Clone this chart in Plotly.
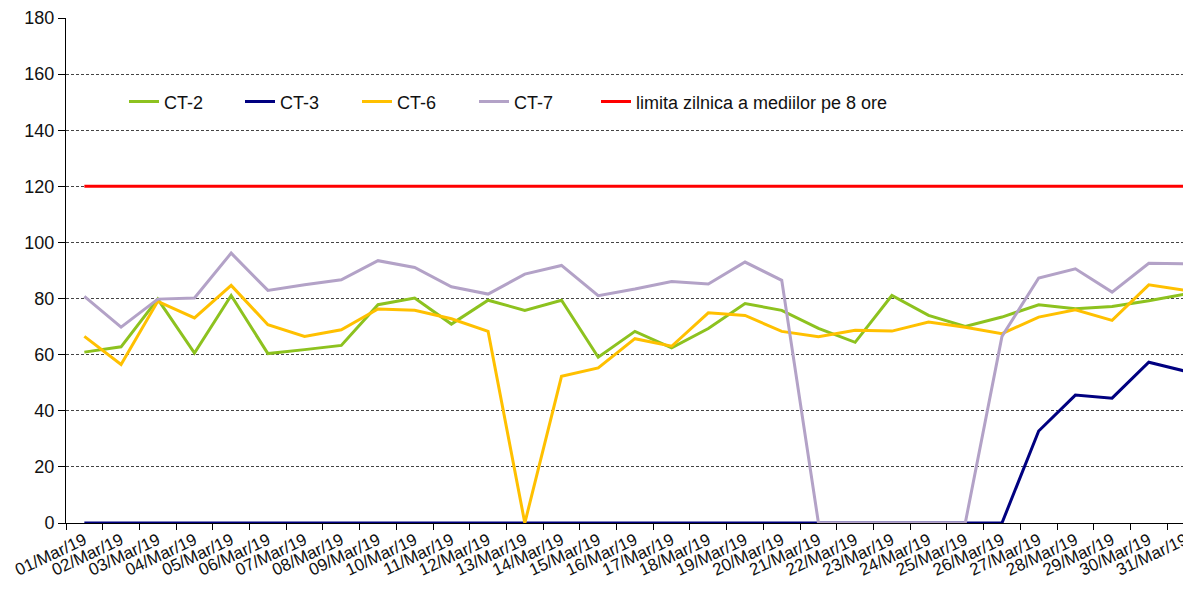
import plotly.graph_objects as go

days = [f"{d:02d}/Mar/19" for d in range(1, 32)]

ct2 = [60.9, 62.8, 79.8, 60.6, 81.1, 60.4, 61.8, 63.3, 77.8, 80.2, 70.9,
       79.4, 75.8, 79.4, 59.1, 68.3, 62.4, 69.3, 78.2, 75.8, 69.4,
       64.4, 81.1, 74.0, 70.1, 73.4, 77.8, 76.4, 77.2, 79.2, 81.6]
ct3 = [0] * 26 + [32.8, 45.6, 44.5, 57.3, 54.1]
ct6 = [66.5, 56.5, 79.0, 73.1, 84.7, 70.7, 66.5, 68.9, 76.3, 75.8, 72.8,
       68.3, 0.0, 52.3, 55.3, 65.7, 63.0, 74.9, 74.0, 68.3, 66.4,
       68.7, 68.4, 71.6, 69.8, 67.5, 73.4, 76.0, 72.2, 84.9, 82.9]
ct7 = [80.8, 69.8, 79.8, 80.2, 96.2, 82.9, 84.9, 86.7, 93.5, 91.1, 84.2,
       81.6, 88.7, 91.8, 81.0, 83.4, 86.1, 85.2, 93.0, 86.5, 0.0,
       0.0, 0.0, 0.0, 0.0, 66.5, 87.3, 90.6, 82.3, 92.6, 92.4]
limit = [120] * 31

series = [
    ("CT-2", ct2, "#8DC21F"),
    ("CT-3", ct3, "#000080"),
    ("CT-6", ct6, "#FFC000"),
    ("CT-7", ct7, "#B3A2C7"),
    ("limita zilnica a mediilor pe 8 ore", limit, "#FF0000"),
]
# legend offsets from the plot's left edge, in px
legend_off = [58, 174, 291, 408, 530]

# page body has an 8px margin, so the figure is shrunk by it
W, H = 1183, 582
L, R, T, B = 58, 0, 10, 67
pw = W - L - R

fig = go.Figure()
legend_cfg = {}
for i, (name, vals, col) in enumerate(series):
    key = "legend" if i == 0 else f"legend{i + 1}"
    fig.add_trace(go.Scatter(x=days, y=vals, name=name, mode="lines",
                             line=dict(color=col, width=3), legend=key))
    legend_cfg[key] = dict(x=legend_off[i] / pw, xanchor="left",
                           y=0.834, yanchor="middle",
                           font=dict(size=18, color="#111"),
                           bgcolor="rgba(0,0,0,0)")

fig.update_layout(
    width=W, height=H,
    margin=dict(l=L, r=R, t=T, b=B),
    paper_bgcolor="white", plot_bgcolor="white",
    font=dict(family="Liberation Sans, Arial, sans-serif", color="#1a1a1a"),
    showlegend=True,
    xaxis=dict(type="category", range=[-0.5, 30.15], tickson="boundaries",
               ticks="outside", ticklen=6, tickcolor="#000", showline=True,
               linecolor="#000", linewidth=1, showgrid=False, tickangle=-25,
               tickfont=dict(size=17, color="#111"), automargin=False),
    yaxis=dict(range=[0, 180], dtick=20, ticks="outside", ticklen=7, tickcolor="#000",
               showline=True, linecolor="#000", linewidth=1,
               showgrid=True, gridcolor="#444", gridwidth=1, griddash="3px,2px",
               zeroline=False, tickfont=dict(size=18, color="#111"), automargin=False),
    **legend_cfg,
)

fig.write_html("out.html")
